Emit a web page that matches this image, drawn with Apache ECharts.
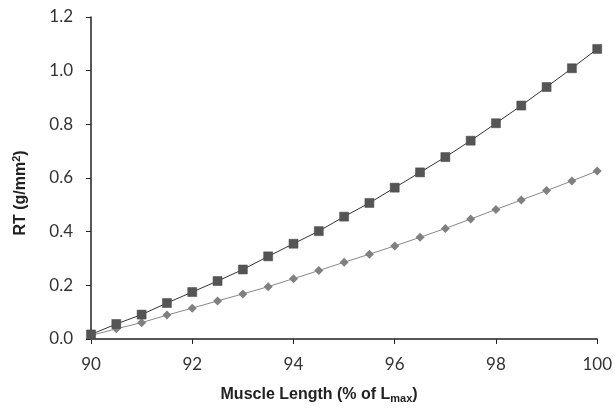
<!DOCTYPE html>
<html><head><meta charset="utf-8">
<script src="https://cdn.jsdelivr.net/npm/echarts@6/dist/echarts.min.js"></script>
<style>html,body{margin:0;padding:0;background:#fff}#c{width:615px;height:409px}</style>
</head><body><div id="c"></div>
<script>
const lengths = [90,90.5,91,91.5,92,92.5,93,93.5,94,94.5,95,95.5,96,96.5,97,97.5,98,98.5,99,99.5,100];
const squareSeries = [0.017,0.056,0.091,0.134,0.175,0.216,0.259,0.308,0.355,0.402,0.456,0.507,0.564,0.621,0.678,0.739,0.804,0.870,0.939,1.009,1.081];
const diamondSeries = [0.013,0.038,0.061,0.089,0.115,0.142,0.168,0.195,0.225,0.255,0.286,0.316,0.347,0.379,0.412,0.447,0.483,0.518,0.553,0.589,0.626];
const xTicks = [90,92,94,96,98,100];
const yTicks = [0,0.2,0.4,0.6,0.8,1.0,1.2];

const chart = echarts.init(document.getElementById('c'));
const pair = (arr) => lengths.map((x,i)=>[x,arr[i]]);
chart.setOption({
  animation:false,
  grid:{left:91,right:15,top:17,bottom:65},
  xAxis:{type:'value',min:90,max:100,interval:2,
    axisLine:{lineStyle:{color:'#222',width:1.5}},
    axisTick:{show:true,length:5,lineStyle:{color:'#222'}},
    splitLine:{show:false},
    axisLabel:{fontFamily:'Lato',fontSize:17,color:'#333',margin:17},
    name:'{t|Muscle Length (% of L}{s|max}{t|)}',nameLocation:'middle',nameGap:46,
    nameTextStyle:{padding:[0,50,0,0],rich:{
      t:{fontFamily:'Liberation Sans',fontWeight:'bold',fontSize:16,color:'#222'},
      s:{fontFamily:'Liberation Sans',fontWeight:'bold',fontSize:11,color:'#222',padding:[8,0,0,0]}}}
  },
  yAxis:{type:'value',min:0,max:1.2,interval:0.2,
    axisLine:{show:true,lineStyle:{color:'#222',width:1.5}},
    axisTick:{show:true,length:5,lineStyle:{color:'#222'}},
    splitLine:{show:false},
    axisLabel:{fontFamily:'Lato',fontSize:17,color:'#333',margin:18,formatter:v=>v.toFixed(1)},
    name:'{t|RT (g/mm}{s|2}{t|)}',nameLocation:'middle',nameGap:61,
    nameTextStyle:{padding:[0,30,0,0],rich:{
      t:{fontFamily:'Liberation Sans',fontWeight:'bold',fontSize:16,color:'#222'},
      s:{fontFamily:'Liberation Sans',fontWeight:'bold',fontSize:11,color:'#222',padding:[0,0,8,0]}}}
  },
  series:[
    {type:'line',data:pair(diamondSeries),symbol:'diamond',symbolSize:9,
     lineStyle:{color:'#888',width:1},itemStyle:{color:'#808080',borderWidth:0}},
    {type:'line',data:pair(squareSeries),symbol:'rect',symbolSize:9,
     lineStyle:{color:'#333',width:1},itemStyle:{color:'#555',borderColor:'#444',borderWidth:0.5}}
  ]
});
</script></body></html>
